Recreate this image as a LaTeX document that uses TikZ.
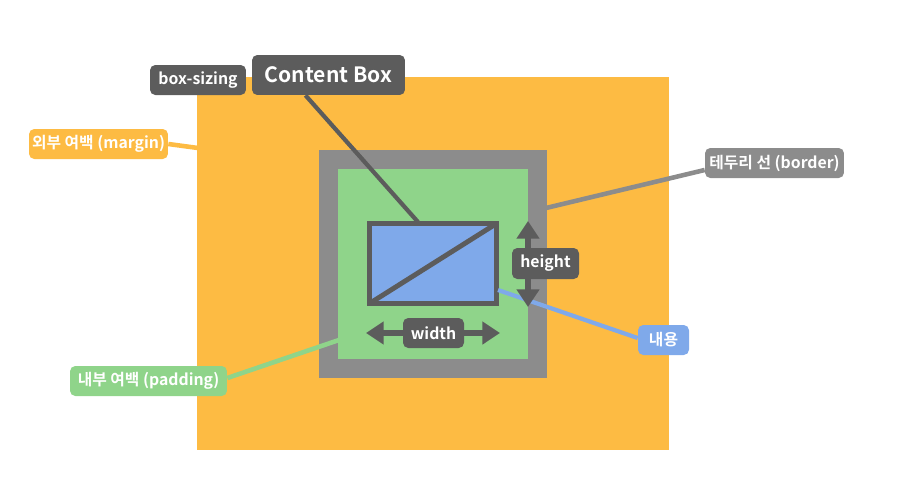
\documentclass[tikz,border=0pt]{standalone}
\usepackage{fontspec}
\setmainfont{Noto Sans CJK KR}[BoldFont={Noto Sans CJK KR Bold}]
\usepackage{tikz}
\usetikzlibrary{arrows.meta}
\usepackage{xcolor}

\definecolor{marginorange}{RGB}{253,187,67}
\definecolor{bordergray}{RGB}{140,140,140}
\definecolor{paddinggreen}{RGB}{143,212,138}
\definecolor{contentblue}{RGB}{127,169,234}
\definecolor{darkgray}{RGB}{92,92,92}

\tikzset{
  tag/.style={rounded corners=3pt, text=white, font=\bfseries\small,
              inner sep=0pt, minimum height=0.6cm},
  layer/.style={inner sep=0pt, outer sep=0pt},
  link/.style={line width=2.4pt},
  measure/.style={line width=3pt, draw=darkgray,
                  {Triangle[width=12.5pt,length=10pt]}-{Triangle[width=12.5pt,length=10pt]}}
}

\begin{document}
\begin{tikzpicture}[x=0.02cm, y=-0.02cm]
          \useasboundingbox (0,0) rectangle (916,477);
          % the four layers of the box
          \node[layer, fill=marginorange, minimum width=9.44cm, minimum height=7.46cm]
            (marginbox) at (433,263.5) {};
          \node[layer, fill=bordergray, minimum width=4.56cm, minimum height=4.56cm]
            (borderbox) at (433,264) {};
          \node[layer, fill=paddinggreen, minimum width=3.8cm, minimum height=3.8cm]
            (paddingbox) at (433,264) {};
          \node[layer, fill=contentblue, draw=darkgray, line width=3pt,
                minimum width=2.54cm, minimum height=1.6cm]
            (contentbox) at (433,263.5) {};
          \draw[link, darkgray, line width=2.8pt] (contentbox.south west) -- (contentbox.north east);

          % labels
          \node[tag, fill=darkgray, font=\bfseries\large,
                minimum width=3.06cm, minimum height=0.8cm] (content) at (328.5,75) {Content Box};
          \node[tag, fill=darkgray, minimum width=1.92cm] (sizing) at (198,80) {box-sizing};
          \node[tag, fill=marginorange, minimum width=2.78cm] (margin) at (98.5,144) {외부 여백 (margin)};
          \node[tag, fill=bordergray, minimum width=2.78cm] (border) at (774.5,163) {테두리 선 (border)};
          \node[tag, fill=paddinggreen, minimum width=3.14cm] (padding) at (148.5,381) {내부 여백 (padding)};
          \node[tag, fill=contentblue, minimum width=1.02cm] (inner) at (663.5,340) {내용};

          % leader lines
          \coordinate (marginhit) at (198,148);
          \coordinate (borderhit) at (546,208);
          \coordinate (paddinghit) at (339,340);
          \coordinate (contenthit) at (418,222);
          \coordinate (innerfoot) at (498,290);
          \draw[link, marginorange, line width=2.6pt] (margin.east) -- (marginhit);
          \draw[link, bordergray, line width=2.6pt] ([yshift=-0.14cm]border.west) -- (borderhit);
          \draw[link, paddinggreen, line width=2.6pt] ([yshift=0.06cm]padding.east) -- (paddinghit);
          \draw[link, darkgray] ([xshift=-0.46cm]content.south) -- (contenthit);
          \draw[link, contentblue] (innerfoot) -- ([yshift=0.04cm]inner.west);

          % measures
          \coordinate (htop) at (528,221);
          \coordinate (hbot) at (528,307);
          \coordinate (wleft) at (366,333);
          \coordinate (wright) at (500,333);
          \draw[measure] (htop) -- (hbot);
          \draw[measure] (wleft) -- (wright);
          \node[tag, fill=darkgray, minimum width=1.34cm, minimum height=0.62cm] (hlabel) at (545.5,263.5) {height};
          \node[tag, fill=darkgray, minimum width=1.22cm] (wlabel) at (433.5,333) {width};
        \end{tikzpicture}
\end{document}
